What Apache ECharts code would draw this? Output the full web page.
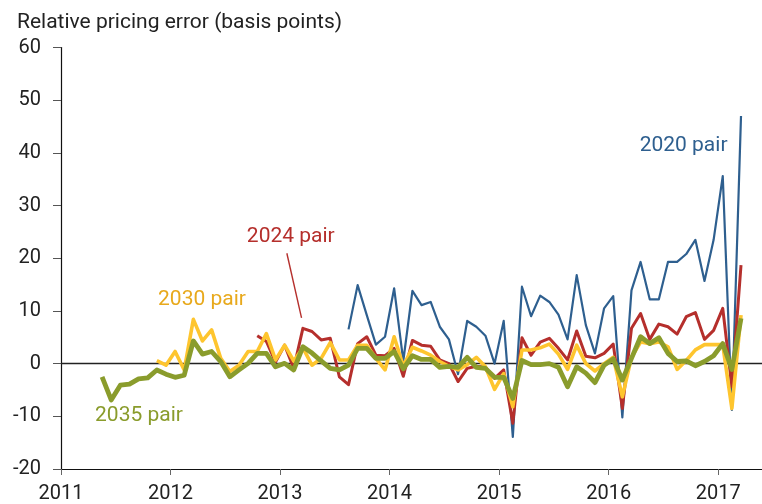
<!DOCTYPE html>
<html>
<head>
<meta charset="utf-8">
<script src="https://cdn.jsdelivr.net/npm/echarts@6/dist/echarts.min.js"></script>
<style>
  html, body { margin: 0; padding: 0; background: #fff; }
  #chart { width: 762px; height: 504px; }
</style>
</head>
<body>
<div id="chart"></div>
<script>
// Monthly observations; each series lists values starting from its first month.
const start2020 = '2013-08';
const values2020 = [6.5, 14.9, 9.2, 3.6, 5.1, 14.3, 0.5, 13.8, 11.1, 11.7, 7.0, 4.6, -2.0, 8.1, 7.0, 5.3, 0.0, 8.1, -13.9, 14.6, 9.0, 12.9, 11.7, 9.3, 4.6, 16.8, 7.3, 1.95, 10.5, 12.8, -10.2, 13.9, 19.3, 12.2, 12.2, 19.3, 19.3, 20.8, 23.5, 15.7, 23.5, 35.6, -8.8, 47.0];

const start2024 = '2012-10';
const values2024 = [5.3, 4.2, 0.3, 3.5, -0.9, 6.7, 6.1, 4.5, 4.8, -2.5, -4.0, 3.8, 5.1, 1.6, 1.5, 2.9, -2.4, 4.4, 3.5, 3.3, 0.7, 0.0, -3.4, -0.9, -0.5, -0.7, -2.8, -1.2, -11.3, 4.9, 1.6, 4.1, 4.8, 2.9, 0.7, 6.2, 1.4, 1.1, 1.95, 3.7, -8.5, 6.7, 9.5, 4.6, 7.5, 7.0, 5.6, 8.9, 9.7, 4.6, 6.3, 10.5, -4.4, 18.7];

const start2030 = '2011-11';
const values2030 = [0.55, -0.3, 2.3, -1.2, 8.4, 4.3, 6.4, 1.0, -1.5, -0.3, 2.3, 2.3, 5.7, 0.7, 3.5, 0.5, 3.0, -0.3, 1.0, 4.0, 0.7, 0.7, 3.5, 3.5, 1.0, -1.2, 5.1, -0.5, 3.1, 2.4, 1.6, 0.4, -0.5, -1.2, -0.2, 1.2, -0.6, -4.9, -1.9, -8.2, 2.6, 2.6, 3.0, 3.7, 1.8, -1.1, 3.5, 0.0, -1.4, 0.0, 1.2, -6.3, 1.2, 4.1, 3.8, 4.1, 3.2, -1.1, 0.6, 2.6, 3.6, 3.6, 3.6, -8.5, 9.2];

const start2035 = '2011-05';
const values2035 = [-2.5, -6.9, -4.1, -3.9, -2.9, -2.7, -1.2, -2.0, -2.6, -2.2, 4.3, 1.8, 2.3, 0.4, -2.5, -1.2, 0.05, 1.95, 1.95, -0.6, 0.05, -1.2, 3.2, 2.0, 0.5, -0.9, -1.2, -0.3, 2.9, 2.9, 1.0, 1.0, 2.3, -1.0, 1.5, 0.8, 0.8, -0.7, -0.5, -0.7, 1.2, -0.7, -0.9, -2.6, -2.6, -6.6, 0.6, -0.2, -0.2, 0.0, -0.7, -4.4, -0.6, -1.8, -3.6, -0.3, 0.9, -3.1, 1.0, 5.1, 3.8, 4.9, 1.95, 0.4, 0.5, -0.4, 0.4, 1.5, 3.8, -1.1, 8.6];

const yearTicks = ['2011', '2012', '2013', '2014', '2015', '2016', '2017'];
const yTicks = [-20, -10, 0, 10, 20, 30, 40, 50, 60];

const seriesNames = ['2020 pair', '2024 pair', '2030 pair', '2035 pair'];
const lineColors = ['#2e5f8f', '#b52f2c', '#fec52e', '#8a9c2c'];
const labelColors = ['#2e5f8f', '#b52f2c', '#e8a91c', '#8a9c2c'];

// label anchor positions (decimal year, value)
const labelAnchors = [[2016.684, 41.3], [2013.098, 24.0], [2012.287, 12.07], [2011.712, -9.94]];
const arrowFrom = [2013.062, 20.95];
const arrowTo = [2013.196, 8.7];

function toPairs(startStr, vals) {
  const [y, m] = startStr.split('-').map(Number);
  return vals.map((v, i) => [y + (m - 1 + i + 0.5) / 12, v]);
}

const chart = echarts.init(document.getElementById('chart'), null, { renderer: 'canvas' });
const FONT = 'Roboto';

function labelPoint(idx) {
  return {
    symbol: 'circle', symbolSize: 1,
    itemStyle: { color: 'rgba(0,0,0,0)' },
    silent: true,
    label: {
      show: true, position: 'inside', formatter: seriesNames[idx],
      color: labelColors[idx], fontSize: 21, fontFamily: FONT
    },
    data: [{ coord: labelAnchors[idx], value: seriesNames[idx] }]
  };
}

const allStarts = [start2020, start2024, start2030, start2035];
const allVals = [values2020, values2024, values2030, values2035];
const widths = [2.2, 3, 3.6, 4.8];

const series = allVals.map((vals, i) => ({
  name: seriesNames[i],
  type: 'line',
  data: toPairs(allStarts[i], vals),
  showSymbol: false,
  symbol: 'none',
  lineStyle: { color: lineColors[i], width: widths[i], join: 'round' },
  z: 2 + i,
  markPoint: labelPoint(i)
}));

series[0].markLine = {
  silent: true, symbol: ['none', 'none'],
  label: { show: false },
  lineStyle: { color: '#222', width: 1.3, type: 'solid' },
  data: [{ yAxis: 0 }],
  z: 1
};
series[3].markLine = {
  silent: true, symbol: ['none', 'arrow'], symbolSize: [0, 17],
  label: { show: false },
  lineStyle: { color: '#b52f2c', width: 1.4, type: 'solid' },
  itemStyle: { color: '#b52f2c' },
  data: [[{ coord: arrowFrom }, { coord: arrowTo }]]
};

chart.setOption({
  animation: false,
  backgroundColor: '#fff',
  title: {
    text: 'Relative pricing error (basis points)',
    left: 12, top: 7,
    textStyle: { fontFamily: FONT, fontSize: 21, fontWeight: 'normal', color: '#222' }
  },
  grid: { left: 61, right: 0, top: 47.5, bottom: 35, containLabel: false },
  xAxis: {
    type: 'value', min: 2011, max: 2017.4, interval: 1,
    axisLine: { show: true, onZero: false, lineStyle: { color: '#111', width: 1.2 } },
    axisTick: { show: true, length: 6, lineStyle: { color: '#666' } },
    splitLine: { show: false },
    axisLabel: {
      fontFamily: FONT, fontSize: 20, color: '#222', margin: 15,
      showMaxLabel: false,
      formatter: v => (yearTicks.includes(String(Math.round(v))) && Math.abs(v - Math.round(v)) < 1e-6) ? String(Math.round(v)) : ''
    }
  },
  yAxis: {
    type: 'value', min: yTicks[0], max: yTicks[yTicks.length - 1], interval: 10,
    axisLine: { show: true, lineStyle: { color: '#111', width: 1.2 } },
    axisTick: { show: true, length: 8, lineStyle: { color: '#555' } },
    splitLine: { show: false },
    axisLabel: { fontFamily: FONT, fontSize: 20, color: '#222', margin: 20 }
  },
  series: series
});
</script>
</body>
</html>
